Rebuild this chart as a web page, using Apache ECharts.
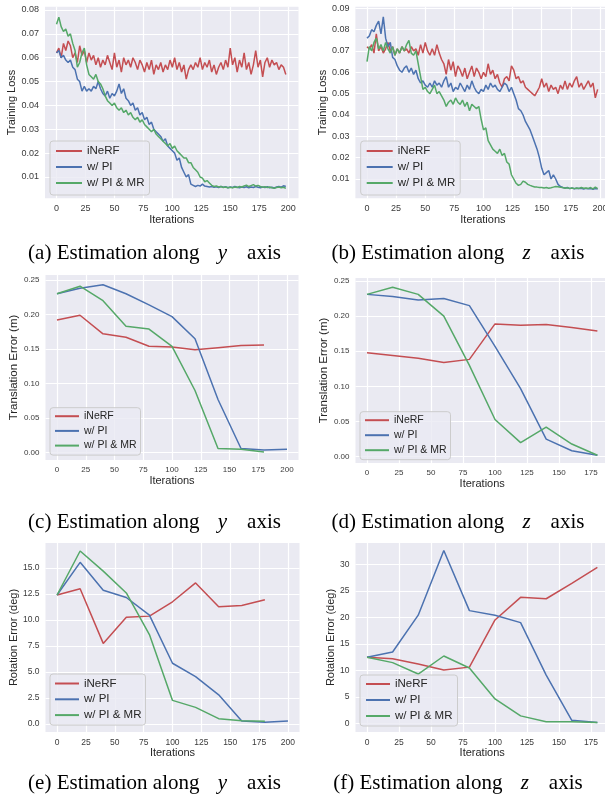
<!DOCTYPE html>
<html>
<head>
<meta charset="utf-8">
<script src="https://cdn.jsdelivr.net/npm/echarts@6/dist/echarts.min.js"></script>
<style>
  html, body { margin: 0; padding: 0; background: #fff; }
  #chart { width: 605px; height: 800px; }
</style>
</head>
<body>
<div id="chart"></div>
<script>
// training-loss curves, sampled every 2 iterations
var iters = [0,2,4,6,8,10,12,14,16,18,20,22,24,26,28,30,32,34,36,38,40,42,44,46,48,50,52,54,56,58,60,62,64,66,68,70,72,74,76,78,80,82,84,86,88,90,92,94,96,98,
  100,102,104,106,108,110,112,114,116,118,120,122,124,126,128,130,132,134,136,138,140,142,144,146,148,150,152,154,156,158,160,162,164,166,168,170,172,174,176,178,180,182,184,186,188,190,192,194,196,198];

var lossY_inerf = [0.062,0.064,0.060,0.066,0.063,0.067,0.065,0.060,0.062,0.058,0.065,0.061,0.063,0.058,0.062,0.059,0.061,0.057,0.060,0.056,
  0.059,0.057,0.061,0.058,0.055,0.062,0.056,0.059,0.054,0.060,0.057,0.059,0.056,0.060,0.058,0.055,0.059,0.057,0.054,0.058,
  0.055,0.059,0.053,0.057,0.055,0.058,0.054,0.057,0.055,0.059,0.056,0.060,0.055,0.058,0.054,0.057,0.051,0.055,0.057,0.055,
  0.058,0.056,0.060,0.055,0.058,0.056,0.059,0.054,0.057,0.053,0.056,0.058,0.055,0.059,0.056,0.064,0.057,0.060,0.054,0.059,
  0.056,0.062,0.055,0.058,0.053,0.057,0.063,0.056,0.059,0.052,0.058,0.060,0.056,0.059,0.057,0.058,0.055,0.057,0.056,0.053];
var lossY_pi = [0.062,0.063,0.060,0.061,0.059,0.058,0.059,0.056,0.055,0.051,0.050,0.046,0.048,0.046,0.047,0.046,0.048,0.047,0.050,0.047,
  0.045,0.044,0.046,0.043,0.045,0.044,0.046,0.049,0.045,0.047,0.043,0.042,0.040,0.041,0.038,0.039,0.036,0.037,0.034,0.035,
  0.032,0.033,0.030,0.029,0.028,0.027,0.025,0.026,0.023,0.022,0.021,0.020,0.017,0.018,0.014,0.012,0.010,0.011,0.007,0.0065,
  0.006,0.0065,0.0062,0.007,0.0062,0.006,0.0058,0.006,0.0057,0.0059,0.0056,0.006,0.0057,0.0059,0.0055,0.0058,0.0056,0.006,0.0057,0.0055,
  0.0058,0.0056,0.0059,0.0055,0.0058,0.0056,0.006,0.0057,0.0055,0.0058,0.0056,0.0059,0.0055,0.0057,0.0054,0.0058,0.006,0.0057,0.0063,0.006];
var lossY_pimr = [0.074,0.077,0.073,0.071,0.072,0.069,0.070,0.066,0.063,0.056,0.058,0.062,0.064,0.057,0.053,0.052,0.051,0.053,0.050,0.049,
  0.047,0.044,0.042,0.041,0.040,0.041,0.039,0.038,0.039,0.037,0.038,0.036,0.037,0.035,0.034,0.035,0.033,0.034,0.032,0.031,
  0.030,0.029,0.030,0.028,0.027,0.026,0.025,0.024,0.023,0.024,0.022,0.023,0.021,0.020,0.019,0.018,0.018,0.016,0.016,0.014,
  0.013,0.012,0.010,0.0095,0.008,0.0085,0.0075,0.0065,0.006,0.0062,0.0058,0.006,0.0056,0.0058,0.0055,0.0057,0.0055,0.0058,0.0056,0.006,
  0.0058,0.0062,0.0066,0.006,0.0064,0.0068,0.0062,0.0065,0.006,0.0057,0.0059,0.0056,0.0058,0.0055,0.0053,0.0056,0.0058,0.0055,0.0057,0.0052];

var lossZ_inerf = [0.072,0.071,0.073,0.069,0.078,0.070,0.072,0.069,0.071,0.074,0.070,0.072,0.068,0.071,0.069,0.072,0.070,0.071,0.069,0.072,
  0.070,0.071,0.068,0.073,0.069,0.074,0.070,0.068,0.071,0.068,0.073,0.069,0.066,0.064,0.059,0.066,0.061,0.065,0.058,0.063,
  0.061,0.058,0.062,0.057,0.060,0.063,0.058,0.062,0.060,0.057,0.060,0.058,0.064,0.059,0.061,0.057,0.059,0.055,0.053,0.057,
  0.058,0.056,0.063,0.061,0.057,0.058,0.055,0.056,0.053,0.052,0.051,0.050,0.049,0.051,0.053,0.057,0.053,0.055,0.051,0.054,
  0.052,0.053,0.050,0.054,0.052,0.056,0.052,0.055,0.053,0.056,0.058,0.053,0.055,0.052,0.054,0.056,0.053,0.055,0.048,0.052];
var lossZ_pi = [0.076,0.077,0.080,0.079,0.082,0.084,0.078,0.086,0.076,0.072,0.074,0.067,0.066,0.063,0.061,0.060,0.062,0.063,0.060,0.062,
  0.059,0.061,0.057,0.055,0.056,0.054,0.053,0.055,0.053,0.056,0.054,0.055,0.053,0.056,0.058,0.053,0.055,0.051,0.053,0.052,
  0.055,0.053,0.051,0.054,0.052,0.056,0.053,0.051,0.050,0.052,0.051,0.054,0.052,0.055,0.053,0.054,0.052,0.051,0.053,0.055,
  0.054,0.051,0.053,0.050,0.047,0.043,0.042,0.040,0.037,0.035,0.033,0.030,0.027,0.024,0.020,0.015,0.012,0.013,0.014,0.010,
  0.012,0.010,0.0075,0.0065,0.006,0.0058,0.006,0.0055,0.0058,0.0054,0.0057,0.0055,0.0056,0.0053,0.0056,0.0054,0.0055,0.0052,0.0055,0.0053];
var lossZ_pimr = [0.065,0.072,0.070,0.074,0.076,0.071,0.073,0.070,0.074,0.071,0.069,0.072,0.068,0.071,0.069,0.072,0.070,0.073,0.075,0.069,
  0.068,0.070,0.064,0.058,0.052,0.053,0.051,0.050,0.052,0.054,0.050,0.051,0.049,0.047,0.044,0.046,0.047,0.045,0.048,0.046,
  0.045,0.047,0.044,0.046,0.042,0.045,0.044,0.043,0.044,0.038,0.033,0.034,0.028,0.026,0.024,0.023,0.022,0.024,0.021,0.022,
  0.018,0.017,0.012,0.010,0.008,0.007,0.0075,0.009,0.0085,0.0075,0.007,0.0066,0.0063,0.0062,0.006,0.006,0.0058,0.006,0.0057,0.0059,
  0.0062,0.0065,0.0064,0.0061,0.006,0.0057,0.0059,0.0056,0.0058,0.0055,0.0058,0.0056,0.006,0.0057,0.0058,0.0056,0.006,0.0054,0.0062,0.0055];

// evaluation every 20 iterations
var evalIters = [0,20,40,60,80,100,120,140,160,180,200];

var transY_inerf = [0.192,0.199,0.172,0.167,0.154,0.153,0.149,0.152,0.155,0.156];
var transY_pi    = [0.230,0.238,0.243,0.230,0.214,0.197,0.165,0.077,0.006,0.004,0.005];
var transY_pimr  = [0.230,0.241,0.220,0.183,0.179,0.154,0.090,0.006,0.005,0.001];

var transZ_inerf = [0.148,0.144,0.140,0.134,0.1385,0.189,0.187,0.188,0.184,0.179];
var transZ_pi    = [0.231,0.228,0.223,0.225,0.215,0.157,0.097,0.025,0.0085,0.002];
var transZ_pimr  = [0.231,0.241,0.231,0.200,0.130,0.053,0.020,0.042,0.018,0.002];

var rotY_inerf = [12.4,13.0,7.75,10.25,10.37,11.75,13.56,11.27,11.4,11.94];
var rotY_pi    = [12.4,15.54,12.86,12.16,10.47,5.84,4.56,2.8,0.29,0.16,0.29];
var rotY_pimr  = [12.4,16.63,14.7,12.6,8.6,2.27,1.6,0.51,0.32,0.26];

var rotZ_inerf = [12.45,12.2,11.2,10.06,10.6,19.5,23.77,23.5,26.4,29.4];
var rotZ_pi    = [12.45,13.46,20.4,32.6,21.26,20.4,19.0,9.1,0.57,0.13];
var rotZ_pimr  = [12.45,11.45,9.3,12.7,10.44,4.6,1.4,0.3,0.3,0.13];

var ticks200 = [0,25,50,75,100,125,150,175,200];
var ticks175 = [0,25,50,75,100,125,150,175];
var lossTicksY = [0.01,0.02,0.03,0.04,0.05,0.06,0.07,0.08];
var lossTicksZ = [0.01,0.02,0.03,0.04,0.05,0.06,0.07,0.08,0.09];
var transTicks = [0,0.05,0.10,0.15,0.20,0.25];
var rotTicksY = [0,2.5,5,7.5,10,12.5,15];
var rotTicksZ = [0,5,10,15,20,25,30];

var names = ['iNeRF', 'w/ PI', 'w/ PI & MR'];
var colors = ['#C44E52', '#4C72B0', '#55A868'];

var panels = [
  { grid: [45, 6.7, 253.5, 191.6], x: [-9.95, 208.95], y: [0.00107, 0.08138], xt: ticks200, yt: lossTicksY, dec: 2,
    yName: 'Training Loss', yGap: 24, fs: 9, ns: 11, xs: iters, data: [lossY_inerf, lossY_pi, lossY_pimr],
    lg: { left: 50, top: 141, fs: 11.5, ih: 12, gap: 4, pad: [4, 5, 6, 5], iw: 26 } },
  { grid: [355.4, 6.7, 255, 191.6], x: [-9.95, 208.95], y: [0.00096, 0.09075], xt: ticks200, yt: lossTicksZ, dec: 2,
    yName: 'Training Loss', yGap: 24.5, fs: 9, ns: 11, xs: iters, data: [lossZ_inerf, lossZ_pi, lossZ_pimr],
    lg: { left: 360.7, top: 141, fs: 11.5, ih: 12, gap: 4, pad: [4, 5, 6, 5], iw: 26 } },
  { grid: [45.5, 275, 253, 185], x: [-10, 210], y: [-0.01057, 0.2572], xt: ticks200, yt: transTicks, dec: 2,
    yName: 'Translation Error (m)', yGap: 22, fs: 8, ns: 11.5, xs: evalIters, data: [transY_inerf, transY_pi, transY_pimr],
    lg: { left: 50, top: 407.7, fs: 10.5, ih: 11, gap: 3.7, pad: [3, 4, 4, 4], iw: 24 } },
  { grid: [355.5, 278, 253.4, 185], x: [-9, 189], y: [-0.00896, 0.2543], xt: ticks175, yt: transTicks, dec: 2,
    yName: 'Translation Error (m)', yGap: 21, fs: 8, ns: 11.5, xs: evalIters, data: [transZ_inerf, transZ_pi, transZ_pimr],
    lg: { left: 360, top: 411.7, fs: 10.5, ih: 11, gap: 4, pad: [3, 4, 4, 4], iw: 24 } },
  { grid: [45.5, 543, 254, 189], x: [-10, 210], y: [-0.77, 17.40], xt: ticks200, yt: rotTicksY, dec: 1,
    yName: 'Rotation Error (deg)', yGap: 25.5, fs: 8.5, ns: 11, xs: evalIters, data: [rotY_inerf, rotY_pi, rotY_pimr],
    lg: { left: 50, top: 674, fs: 11.5, ih: 12, gap: 3.8, pad: [3.5, 4, 4, 4], iw: 24 } },
  { grid: [355.5, 543, 253.4, 189], x: [-9, 189], y: [-1.64, 34.02], xt: ticks175, yt: rotTicksZ, dec: 0,
    yName: 'Rotation Error (deg)', yGap: 19.5, fs: 8.5, ns: 11, xs: evalIters, data: [rotZ_inerf, rotZ_pi, rotZ_pimr],
    lg: { left: 360, top: 675, fs: 11.5, ih: 12, gap: 4, pad: [3, 5, 4, 5], iw: 24 } }
];

var font = 'Liberation Sans, Arial, sans-serif';
var grids = [], xAxes = [], yAxes = [], series = [], legends = [];

panels.forEach(function (p, i) {
  grids.push({
    left: p.grid[0], top: p.grid[1], width: p.grid[2], height: p.grid[3],
    show: true, backgroundColor: '#EAEAF2', borderWidth: 0,
    containLabel: false, outerBoundsMode: 'none'
  });
  xAxes.push({
    type: 'value', gridIndex: i, min: p.x[0], max: p.x[1],
    name: 'Iterations', nameLocation: 'middle', nameGap: 15,
    nameTextStyle: { fontFamily: font, fontSize: 11, color: '#262626' },
    axisLine: { show: false },
    axisTick: { show: false, customValues: p.xt },
    axisLabel: { customValues: p.xt, margin: 6, fontFamily: font, fontSize: p.fs, color: '#3a3a3a' },
    splitLine: { show: true, lineStyle: { color: '#ffffff', width: 1.2 } }
  });
  yAxes.push({
    type: 'value', gridIndex: i, min: p.y[0], max: p.y[1],
    name: p.yName, nameLocation: 'middle', nameGap: p.yGap, nameRotate: 90,
    nameTextStyle: { fontFamily: font, fontSize: p.ns, color: '#262626' },
    axisLine: { show: false },
    axisTick: { show: false, customValues: p.yt },
    axisLabel: {
      customValues: p.yt, margin: 6, fontFamily: font, fontSize: p.fs, color: '#3a3a3a',
      formatter: function (v) { return v.toFixed(p.dec); }
    },
    splitLine: { show: true, lineStyle: { color: '#ffffff', width: 1.2 } }
  });
  p.data.forEach(function (vals, k) {
    series.push({
      name: names[k], type: 'line', xAxisIndex: i, yAxisIndex: i,
      data: vals.map(function (v, j) { return [p.xs[j], v]; }),
      symbol: 'none', showSymbol: false, clip: true, animation: false,
      lineStyle: { color: colors[k], width: 1.5 }, itemStyle: { color: colors[k] }
    });
  });
  legends.push({
    data: names, orient: 'vertical', left: p.lg.left, top: p.lg.top,
    itemWidth: p.lg.iw, itemHeight: p.lg.ih, itemGap: p.lg.gap, padding: p.lg.pad,
    backgroundColor: 'rgba(234,234,242,0.8)', borderColor: '#cccccc', borderWidth: 1, borderRadius: 3,
    itemStyle: { color: 'rgba(0,0,0,0)', borderColor: 'rgba(0,0,0,0)', borderWidth: 0, opacity: 0 },
    textStyle: { fontFamily: font, fontSize: p.lg.fs, color: '#262626', lineHeight: p.lg.ih },
    selectedMode: false
  });
});

var captions = [
  ['(a) Estimation along ', 'y', 154.5, 253],
  ['(b) Estimation along ', 'z', 458, 253],
  ['(c) Estimation along ', 'y', 154.5, 522],
  ['(d) Estimation along ', 'z', 458, 522],
  ['(e) Estimation along ', 'y', 154.5, 783],
  ['(f) Estimation along ', 'z', 458, 783]
];

var graphics = captions.map(function (c) {
  return {
    type: 'text', x: c[2], y: c[3],
    style: {
      text: '{t|' + c[0] + '}{m|' + c[1] + '}{t|axis}',
      textAlign: 'center', textVerticalAlign: 'middle',
      rich: {
        t: { fontFamily: 'Liberation Serif, Times New Roman, serif', fontSize: 21, fill: '#000' },
        m: { fontFamily: 'Liberation Serif, Times New Roman, serif', fontStyle: 'italic', fontSize: 21,
             fill: '#000', padding: [0, 20, 0, 13] }
      }
    }
  };
});

var chart = echarts.init(document.getElementById('chart'), null, { renderer: 'canvas' });
chart.setOption({
  animation: false,
  backgroundColor: '#ffffff',
  grid: grids,
  xAxis: xAxes,
  yAxis: yAxes,
  legend: legends,
  series: series,
  graphic: graphics
});
</script>
</body>
</html>
